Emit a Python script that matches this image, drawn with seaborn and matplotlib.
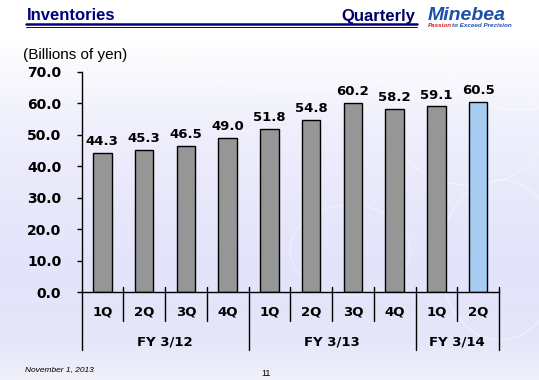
import numpy as np
import pandas as pd
import matplotlib
matplotlib.use("Agg")
import matplotlib.pyplot as plt
from matplotlib.patches import Ellipse
import seaborn as sns

# data
quarters = ["1Q", "2Q", "3Q", "4Q", "1Q", "2Q", "3Q", "4Q", "1Q", "2Q"]
fiscal_years = ["FY 3/12", "FY 3/12", "FY 3/12", "FY 3/12",
                "FY 3/13", "FY 3/13", "FY 3/13", "FY 3/13",
                "FY 3/14", "FY 3/14"]
inventories = [44.3, 45.3, 46.5, 49.0, 51.8, 54.8, 60.2, 58.2, 59.1, 60.5]
yticks = [0, 10, 20, 30, 40, 50, 60, 70]

df = pd.DataFrame({"slot": [str(i) for i in range(len(inventories))],
                   "quarter": quarters, "fy": fiscal_years, "value": inventories})

sns.set_theme(style="white")
plt.rcParams["font.family"] = ["DejaVu Sans"]
plt.rcParams["text.color"] = "black"
plt.rcParams["ytick.color"] = "black"

W, H = 539, 380
fig = plt.figure(figsize=(5.39, 3.80), dpi=100)

# slide background: white on top fading to lavender, with faint swirls
bg = fig.add_axes([0, 0, 1, 1], zorder=-10)
grad = np.linspace(0, 1, 256).reshape(-1, 1)
cmap = matplotlib.colors.LinearSegmentedColormap.from_list(
    "bg", [(0, "#ffffff"), (0.1, "#ffffff"), (0.35, "#eeeefc"), (0.7, "#e3e3fb"),
           (0.9, "#e6e6f9"), (1, "#f0f0fa")])
bg.imshow(grad, aspect="auto", cmap=cmap, extent=[0, W, 0, H], origin="upper")
for cx, cy, w, h in [(470, 250, 150, 110), (500, 120, 120, 160), (350, 130, 120, 90),
                     (300, 330, 260, 80), (520, 330, 150, 120)]:
    bg.add_patch(Ellipse((cx, cy), w, h, fill=False, ec="white", lw=0.8, alpha=0.45))
bg.set_xlim(0, W)
bg.set_ylim(0, H)
bg.set_axis_off()

ax = fig.add_axes([81.5 / W, 1 - 292 / H, 417.5 / W, 220 / H])
ax.patch.set_alpha(0)
colors = ["#969696"] * 9 + ["#99ccff"]
sns.barplot(data=df, x="slot", y="value", hue="slot", palette=colors, legend=False,
            width=0.44, edgecolor="black", linewidth=1.0, ax=ax)

ax.set_ylim(0, 70)
ax.set_xlim(-0.5, 9.5)
ax.set_yticks(yticks)
ax.set_yticklabels([f"{v:.1f}" for v in yticks], fontsize=10, fontweight="bold")
ax.tick_params(axis="y", direction="out", length=3.6, width=1, color="black", pad=11, left=True)
ax.set_xticks([])
ax.set_xlabel("")
ax.set_ylabel("")
for s in ["top", "right"]:
    ax.spines[s].set_visible(False)
for s in ["left", "bottom"]:
    ax.spines[s].set_color("black")
    ax.spines[s].set_linewidth(1.0)

for i, v in enumerate(inventories):
    ax.text(i, v + 1.5, f"{v:.1f}", ha="center", va="bottom", fontsize=9.5, fontweight="bold")

# category axis: quarter row and fiscal-year row
tr = ax.get_xaxis_transform()
for k in range(len(quarters) + 1):
    top = 0 if k == 0 else 0.023
    bottom = -0.264 if k in (0, 4, 8, 10) else -0.134
    ax.plot([k - 0.5, k - 0.5], [top, bottom], transform=tr, color="black", lw=1, clip_on=False)
for i, q in enumerate(quarters):
    ax.text(i, -0.091, q, transform=tr, ha="center", va="center", fontsize=9.5, fontweight="bold")
fy_names = list(dict.fromkeys(fiscal_years))
for name in fy_names:
    idx = [i for i, f in enumerate(fiscal_years) if f == name]
    ax.text(np.mean(idx), -0.227, name, transform=tr, ha="center", va="center",
            fontsize=9.5, fontweight="bold")

# slide decorations
fig.text(23 / W, 1 - 55 / H, "(Billions of yen)", fontsize=11, family="Liberation Sans",
         va="center", ha="left")
fig.text(27 / W, 1 - 16 / H, "Inventories", fontsize=12, family="Liberation Sans",
         fontweight="bold", color="#000080", va="center", ha="left")
fig.text(415 / W, 1 - 16 / H, "Quarterly", fontsize=12, family="Liberation Sans",
         fontweight="bold", color="#000066", va="center", ha="right")
fig.add_artist(plt.Line2D([26 / W, 417 / W], [1 - 23.5 / H] * 2, color="#000080", lw=1.8))
fig.add_artist(plt.Line2D([26 / W, 417 / W], [1 - 26.8 / H] * 2, color="#000080", lw=0.7))
fig.text(428 / W, 1 - 20 / H, "Minebea", fontsize=14, family="Liberation Sans",
         fontweight="heavy", style="italic", color="#1f4ea8", va="baseline", ha="left")
fig.text(428 / W, 1 - 27 / H, "Passion", fontsize=4.5, family="Liberation Sans",
         fontweight="bold", style="italic", color="#d02020", va="baseline", ha="left")
fig.text(452 / W, 1 - 27 / H, "to Exceed Precision", fontsize=4.5, family="Liberation Sans",
         fontweight="bold", style="italic", color="#1f4ea8", va="baseline", ha="left")
fig.text(25 / W, 1 - 370 / H, "November 1, 2013", fontsize=6, family="Liberation Sans",
         style="italic", va="center", ha="left")
fig.text(266 / W, 1 - 374 / H, "11", fontsize=6.5, family="Liberation Sans",
         va="center", ha="center")

fig.savefig("out.png", dpi=100)
